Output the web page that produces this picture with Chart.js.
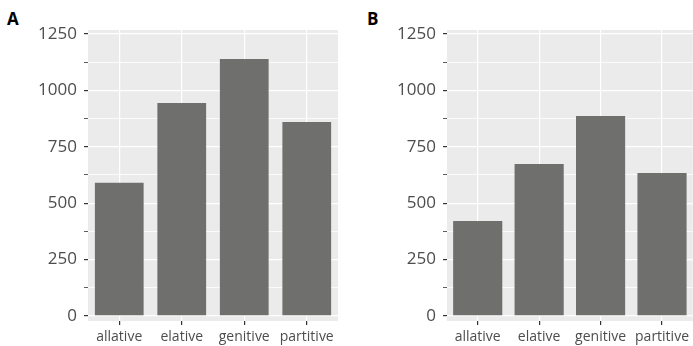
<!DOCTYPE html>
<html>
<head>
<meta charset="utf-8">
<script src="https://cdn.jsdelivr.net/npm/chart.js@4.4.0/dist/chart.umd.min.js"></script>
<style>
    body { margin: 0; background: #fff; width: 693px; height: 346px; position: relative; overflow: hidden; }
    .panel { position: absolute; top: 0; height: 346px; }
    .tag { position: absolute; font-family: 'Open Sans', sans-serif; font-weight: bold; font-size: 17px; color: #000; }
</style>
</head>
<body>
<div class="tag" style="left:7px; top:7px;">A</div>
<div class="tag" style="left:367px; top:7px;">B</div>
<div class="panel" style="left:0; width:346px;"><canvas id="chartA"></canvas></div>
<div class="panel" style="left:350px; width:343px;"><canvas id="chartB"></canvas></div>
<script>
// Данные
const categories = ['allative', 'elative', 'genitive', 'partitive'];
const valuesA = [590, 944, 1139, 860];
const valuesB = [421, 674, 887, 634];
const yLabels = [0, 250, 500, 750, 1000, 1250];

// Фон панели (как в ggplot)
const panelBg = {
    id: 'panelBg',
    beforeDraw(chart) {
        const a = chart.chartArea;
        const ctx = chart.ctx;
        ctx.save();
        ctx.fillStyle = '#ebebeb';
        ctx.fillRect(a.left, a.top, a.right - a.left, a.bottom - a.top);
        ctx.restore();
    }
};

function makeChart(id, values, yWidth, rightPad, barPct) {
    const ctx = document.getElementById(id).getContext('2d');
    return new Chart(ctx, {
        type: 'bar',
        data: {
            labels: categories,
            datasets: [{
                data: values,
                backgroundColor: '#6f6f6e',
                borderWidth: 0,
                categoryPercentage: 1,
                barPercentage: barPct
            }]
        },
        options: {
            responsive: true,
            maintainAspectRatio: false,
            animation: false,
            events: [],
            layout: { padding: { top: 30, right: rightPad, left: 0, bottom: 0 } },
            plugins: { legend: { display: false }, tooltip: { enabled: false } },
            scales: {
                x: {
                    offset: true,
                    border: { display: false },
                    grid: { offset: false, color: '#ffffff', lineWidth: 1.2, tickColor: '#333333', tickLength: 4 },
                    ticks: { color: '#4d4d4d', padding: 4, font: { family: 'Open Sans', size: 14 } },
                    afterFit(scale) { scale.height = 25; }
                },
                y: {
                    min: -23,
                    max: 1268,
                    border: { display: false },
                    grid: {
                        color: '#ffffff',
                        lineWidth: c => (c.tick && c.tick.value % 250 === 0) ? 1.2 : 0.8,
                        tickColor: '#333333',
                        tickLength: 4
                    },
                    ticks: {
                        stepSize: 125,
                        includeBounds: false,
                        color: '#4d4d4d',
                        padding: 7,
                        font: { family: 'Open Sans', size: 17 },
                        callback: v => yLabels.includes(v) ? String(v) : ''
                    },
                    afterFit(scale) { scale.width = yWidth; }
                }
            }
        },
        plugins: [panelBg]
    });
}

makeChart('chartA', valuesA, 88, 8, 0.78);
makeChart('chartB', valuesB, 97, 0, 0.8);
</script>
</body>
</html>
